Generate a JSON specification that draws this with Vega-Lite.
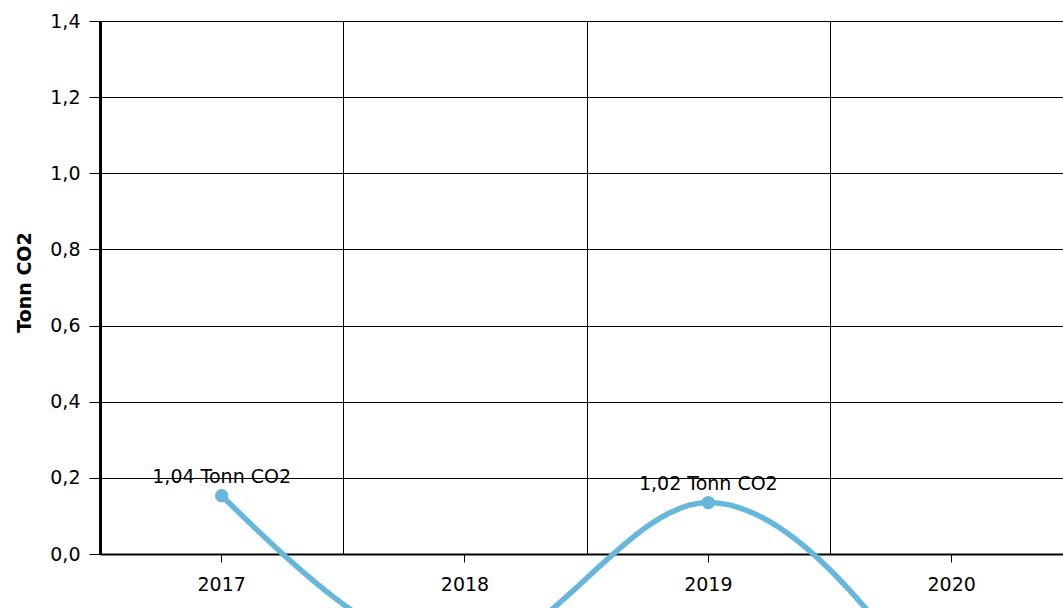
{
  "$schema": "https://vega.github.io/schema/vega-lite/v6.json",
  "width": 963,
  "height": 533,
  "autosize": {"type": "none"},
  "padding": {"left": 100, "top": 21, "right": 0, "bottom": 54},
  "background": "white",
  "config": {
    "view": {"stroke": null},
    "font": "DejaVu Sans"
  },
  "data": {
    "values": [
      {"year": "2017", "co2": 0.153, "label": "1,04 Tonn CO2"},
      {"year": "2018", "co2": -0.262, "label": ""},
      {"year": "2019", "co2": 0.135, "label": "1,02 Tonn CO2"},
      {"year": "2020", "co2": -0.43, "label": ""}
    ]
  },
  "encoding": {
    "y": {
      "field": "co2",
      "type": "quantitative",
      "scale": {"domain": [0, 1.4], "nice": false, "zero": false},
      "axis": {
        "orient": "left",
        "values": [0, 0.2, 0.4, 0.6, 0.8, 1.0, 1.2, 1.4],
        "labelExpr": "replace(format(datum.value, '.1f'), '.', ',')",
        "grid": true,
        "gridColor": "#000000",
        "gridWidth": 1,
        "gridOpacity": 1,
        "domainColor": "#000000",
        "domainWidth": 3,
        "tickColor": "#000000",
        "tickSize": 11,
        "tickWidth": 1,
        "labelFontSize": 19,
        "labelColor": "#000000",
        "labelPadding": 9,
        "labelFont": "DejaVu Sans",
        "title": "Tonn CO2",
        "titleFont": "DejaVu Sans",
        "titleFontSize": 19,
        "titleFontWeight": "bold",
        "titleColor": "#000000",
        "titleAngle": 270,
        "titleBaseline": "alphabetic",
        "titleAlign": "center",
        "titleX": -70,
        "titleY": 261
      }
    }
  },
  "layer": [
    {
      "mark": {"type": "line", "interpolate": "monotone", "color": "#67b7dc", "strokeWidth": 5.5},
      "encoding": {
        "x": {
          "field": "year",
          "type": "ordinal",
          "sort": "ascending",
          "scale": {"range": [0, 973.3], "paddingInner": 0, "paddingOuter": 0},
          "axis": {
            "orient": "bottom",
            "tickBand": "extent",
            "grid": true,
            "gridColor": "#000000",
            "gridWidth": 1,
            "gridOpacity": 1,
            "ticks": false,
            "labels": false,
            "domain": false,
            "title": null
          }
        }
      }
    },
    {
      "mark": {"type": "point", "filled": true, "size": 180, "color": "#67b7dc", "opacity": 1},
      "encoding": {
        "x": {
          "field": "year",
          "type": "ordinal",
          "sort": "ascending",
          "axis": {
            "orient": "bottom",
            "grid": false,
            "domain": true,
            "domainColor": "#000000",
            "domainWidth": 2,
            "ticks": true,
            "tickColor": "#000000",
            "tickSize": 8,
            "tickWidth": 1,
            "labelAngle": 0,
            "labelFontSize": 19,
            "labelFont": "DejaVu Sans",
            "labelColor": "#000000",
            "labelPadding": 13,
            "title": null
          }
        }
      }
    },
    {
      "mark": {"type": "text", "dy": -13, "baseline": "alphabetic", "align": "center", "fontSize": 19, "font": "DejaVu Sans", "color": "#000000"},
      "encoding": {
        "x": {"field": "year", "type": "ordinal", "sort": "ascending", "axis": null},
        "text": {"field": "label"}
      }
    }
  ],
  "resolve": {"axis": {"x": "independent"}}
}
